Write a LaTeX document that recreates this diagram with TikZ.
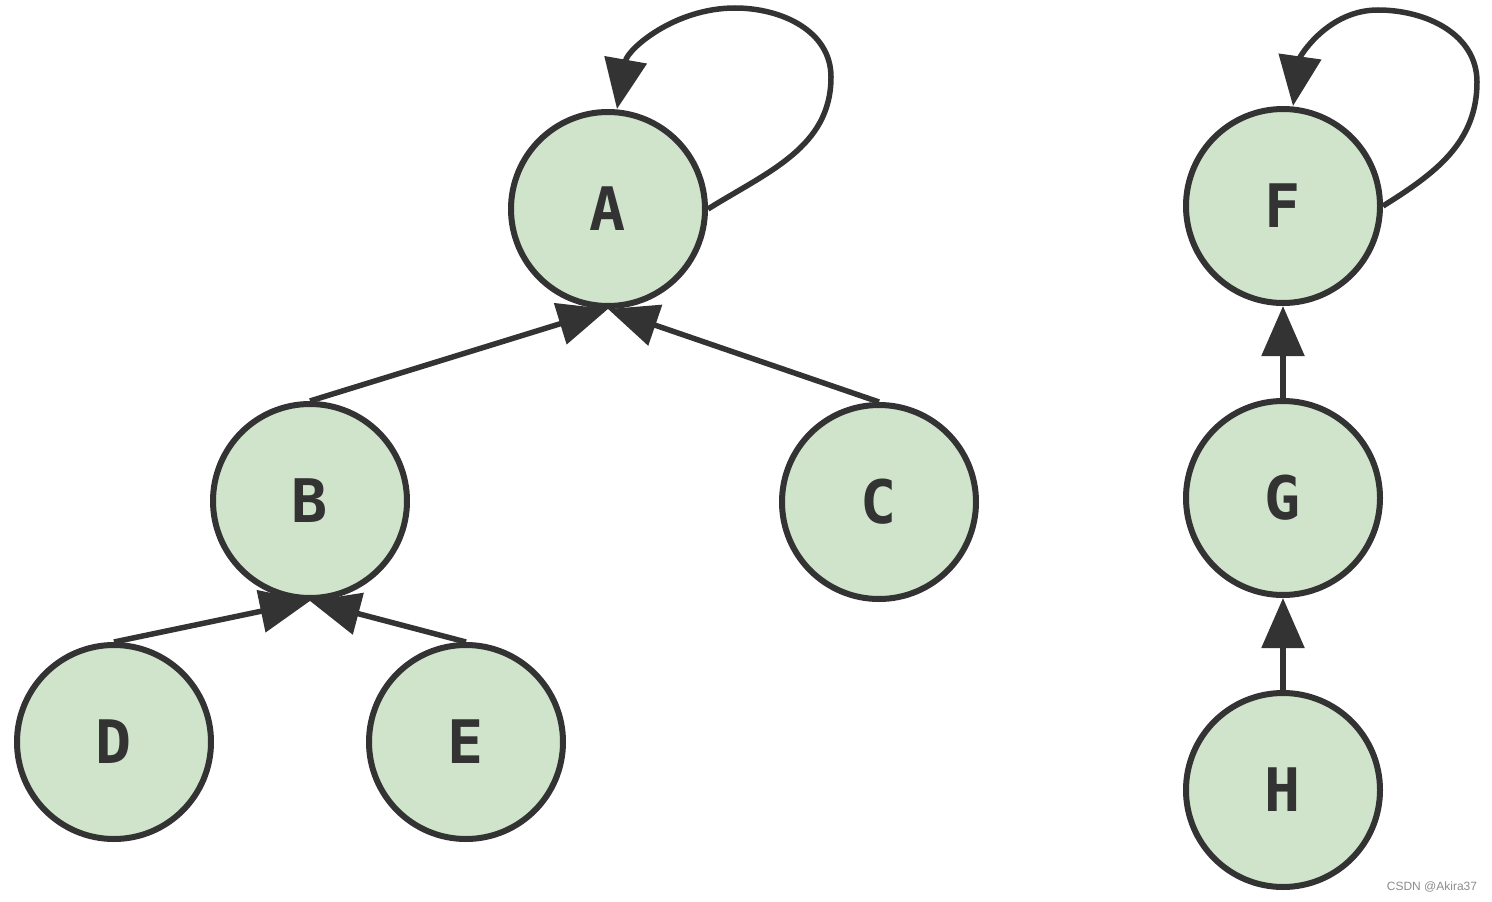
\documentclass[tikz,border=0pt]{standalone}
\usepackage{fontspec}
\setmainfont{Liberation Sans}
\newfontfamily\nodefont{DejaVu Sans Mono}
\usetikzlibrary{arrows.meta}
\definecolor{nodefill}{RGB}{207,228,203}
\definecolor{ink}{RGB}{51,51,51}
\begin{document}
\begin{tikzpicture}[x=1pt,y=-1pt,
  vert/.style={circle,draw=ink,fill=nodefill,line width=6pt,minimum size=194pt,inner sep=0pt,
    font=\nodefont\bfseries\fontsize{60}{60}\selectfont,text=ink},
  edge/.style={draw=ink,line width=5.5pt,-{Triangle[length=50pt,width=42pt]}}]
\useasboundingbox (0,0) rectangle (1492,902);
\node[vert] (A) at (608,209) {A};
\node[vert] (B) at (310,501) {B};
\node[vert] (C) at (879,502) {C};
\node[vert] (D) at (114,742) {D};
\node[vert] (E) at (466,742) {E};
\node[vert] (F) at (1283,206) {F};
\node[vert] (G) at (1283,498) {G};
\node[vert] (H) at (1283,790) {H};
\path[edge] (B.north) -- (A.south);
\path[edge] (C.north) -- (A.south);
\path[edge] (D.north) -- (B.south);
\path[edge] (E.north) -- (B.south);
\path[edge] (G.north) -- (F.south);
\path[edge] (H.north) -- (G.south);
\path[edge] (A.east) to[out=32,in=-90] (831,77) to[out=90,in=0] (735,8) to[out=180,in=80] ([xshift=9pt]A.north);
\path[edge] (F.east) to[out=32,in=-90] (1477,82) to[out=90,in=0] (1378,10) to[out=180,in=82] ([xshift=10pt]F.north);
\node[text=black!45,font=\fontsize{12}{12}\selectfont] (wm) at (1432,887) {CSDN @Akira37};
\end{tikzpicture}
\end{document}
